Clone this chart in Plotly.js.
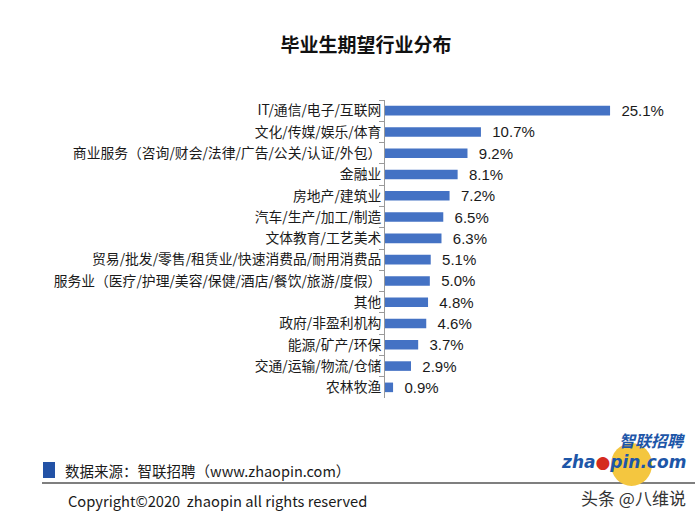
<!DOCTYPE html>
<html>
<head>
<meta charset="utf-8">
<script src="https://cdn.plot.ly/plotly-3.0.1.min.js"></script>
<style>html,body{margin:0;padding:0;background:#fff;}#chart{width:700px;height:518px;}</style>
</head>
<body>
<div id="chart"></div>
<script>
const categories = [
  'IT/通信/电子/互联网',
  '文化/传媒/娱乐/体育',
  '商业服务（咨询/财会/法律/广告/公关/认证/外包）',
  '金融业',
  '房地产/建筑业',
  '汽车/生产/加工/制造',
  '文体教育/工艺美术',
  '贸易/批发/零售/租赁业/快速消费品/耐用消费品',
  '服务业（医疗/护理/美容/保健/酒店/餐饮/旅游/度假）',
  '其他',
  '政府/非盈利机构',
  '能源/矿产/环保',
  '交通/运输/物流/仓储',
  '农林牧渔'
];
const values = [25.1, 10.7, 9.2, 8.1, 7.2, 6.5, 6.3, 5.1, 5.0, 4.8, 4.6, 3.7, 2.9, 0.9];
const valueLabels = values.map(v => '\u00a0\u00a0' + v.toFixed(1) + '%');

const titleText = '毕业生期望行业分布';
const sourceText = '数据来源：智联招聘（www.zhaopin.com）';
const copyrightText = 'Copyright©2020\u00a0\u00a0zhaopin all rights reserved';

// pixel -> paper helpers for plot area (left 385, right 654, top 100, bottom 398)
const L = 385, R = 654, T = 100, B = 398;
const px = x => (x - L) / (R - L);
const py = y => (B - y) / (B - T);

const CJK = '"Noto Sans CJK SC", "Noto Sans", sans-serif';

const trace = {
  type: 'bar',
  orientation: 'h',
  y: categories,
  x: values,
  width: 0.45,
  marker: {color: '#4472C4'},
  text: valueLabels,
  textposition: 'outside',
  constraintext: 'none',
  textfont: {family: '"Liberation Sans", Arial, sans-serif', size: 15, color: '#1a1a1a'},
  cliponaxis: false,
  hoverinfo: 'none'
};

const layout = {
  width: 700,
  height: 518,
  margin: {l: L, r: 700 - R, t: T, b: 518 - B, pad: 0},
  paper_bgcolor: '#ffffff',
  plot_bgcolor: '#ffffff',
  showlegend: false,
  title: {
    text: '<b>' + titleText + '</b>',
    font: {family: CJK, size: 19, color: '#111'},
    xref: 'container', x: 366 / 700, xanchor: 'center',
    yref: 'container', y: 1 - 45 / 518, yanchor: 'middle'
  },
  xaxis: {range: [0, 30], visible: false, showgrid: false, zeroline: false, fixedrange: true},
  yaxis: {
    type: 'category',
    autorange: 'reversed',
    showline: true, linecolor: '#9a9a9a', linewidth: 1,
    ticks: 'outside', tickson: 'boundaries', ticklen: 5, tickcolor: '#9a9a9a', tickwidth: 1,
    tickfont: {family: CJK, size: 13.8, color: '#1a1a1a'},
    showgrid: false, zeroline: false, fixedrange: true
  },
  shapes: [
    {type: 'rect', xref: 'paper', yref: 'paper', x0: px(43), x1: px(55), y0: py(478), y1: py(462),
     fillcolor: '#2352a6', line: {width: 0}},
    {type: 'line', xref: 'paper', yref: 'paper', x0: px(42), x1: px(695), y0: py(483), y1: py(483),
     line: {color: '#555', width: 1.5}},
    {type: 'circle', xref: 'paper', yref: 'paper', x0: px(611), x1: px(652), y0: py(486), y1: py(443),
     fillcolor: '#f4c63f', line: {width: 0}}
  ],
  annotations: [
    {xref: 'paper', yref: 'paper', x: px(63), y: py(470), xanchor: 'left', yanchor: 'middle',
     text: sourceText, showarrow: false, font: {family: CJK, size: 14.5, color: '#1a1a1a'}},
    {xref: 'paper', yref: 'paper', x: px(66), y: py(500), xanchor: 'left', yanchor: 'middle',
     text: copyrightText, showarrow: false, font: {family: CJK, size: 14.7, color: '#1a1a1a'}},
    {xref: 'paper', yref: 'paper', x: px(687), y: py(440), xanchor: 'right', yanchor: 'middle',
     text: '<b>智联招聘</b>', showarrow: false, font: {family: CJK, size: 16, color: '#1d56a8', style: 'italic'}},
    {xref: 'paper', yref: 'paper', x: px(688), y: py(462), xanchor: 'right', yanchor: 'middle',
     text: '<b>zha<span style="color:#d52b1e">●</span>pin.com</b>', showarrow: false,
     font: {family: '"DejaVu Sans", sans-serif', size: 17, color: '#1d56a8', style: 'italic'}},
    {xref: 'paper', yref: 'paper', x: px(688), y: py(497), xanchor: 'right', yanchor: 'middle',
     text: '头条 @八维说', showarrow: false, font: {family: CJK, size: 17, color: '#333'}}
  ]
};

Plotly.newPlot('chart', [trace], layout, {staticPlot: true, displayModeBar: false});
</script>
</body>
</html>
